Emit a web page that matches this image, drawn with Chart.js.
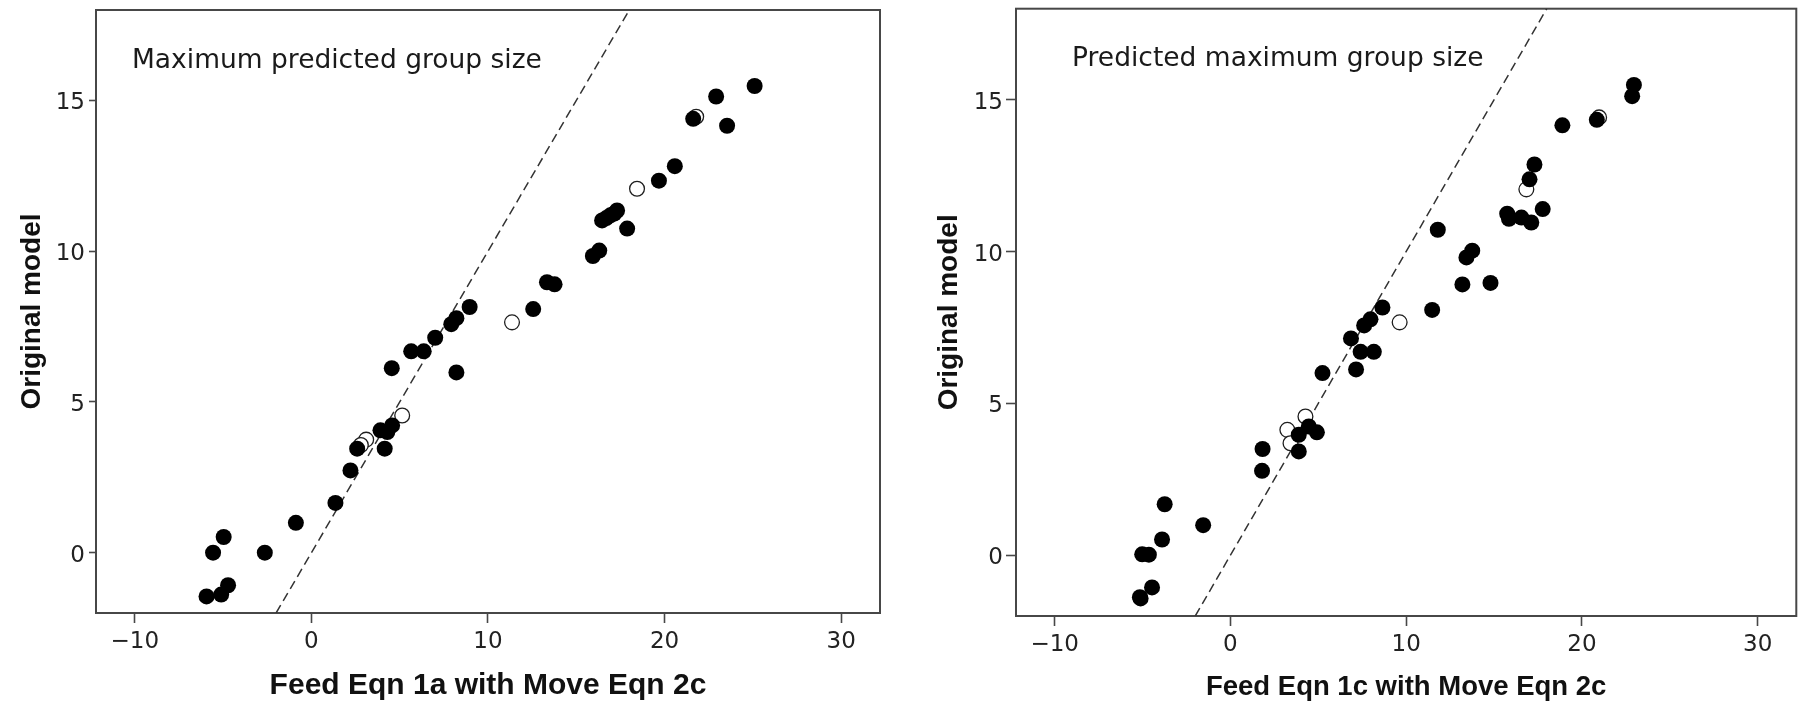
<!DOCTYPE html>
<html>
<head>
<meta charset="utf-8">
<script src="https://cdn.jsdelivr.net/npm/chart.js@4/dist/chart.umd.min.js"></script>
<style>
  html, body { margin: 0; padding: 0; background: #fff; width: 1805px; height: 707px; overflow: hidden; }
  .panel { position: absolute; top: 0; width: 900px; height: 707px; }
</style>
</head>
<body>
<div class="panel" style="left:0"><canvas id="panelA" width="900" height="707"></canvas></div>
<div class="panel" style="left:905px"><canvas id="panelB" width="900" height="707"></canvas></div>
<script>
// ---- Feed Eqn 1a with Move Eqn 2c ----
const feed1aSolidX = [25.10, 22.92, 23.54, 21.62, 20.58, 19.68, 17.31, 16.93, 16.46, 16.70, 17.15, 17.88,
  15.94, 16.30, 13.34, 13.77, 12.56, 8.96, 8.21, 7.92, 7.01, 6.36, 5.65, 4.55, 8.21, 4.57, 3.91, 4.30,
  4.15, 2.59, 2.21, 1.36, -0.88, -2.64, -4.97, -5.57, -4.72, -5.11, -5.94];
const feed1aSolidY = [15.48, 15.13, 14.16, 14.39, 12.82, 12.34, 11.35, 11.19, 11.02, 11.10, 11.25, 10.75,
  9.84, 10.02, 8.97, 8.90, 8.08, 8.15, 7.78, 7.58, 7.13, 6.68, 6.68, 6.12, 5.98, 4.22, 4.06, 4.00,
  3.45, 3.45, 2.73, 1.65, 0.99, 0.00, 0.52, 0.00, -1.08, -1.39, -1.45];
const feed1aOpenX = [21.79, 18.44, 11.36, 5.14, 3.10, 2.80];
const feed1aOpenY = [14.46, 12.07, 7.64, 4.55, 3.75, 3.57];

// ---- Feed Eqn 1c with Move Eqn 2c ----
const feed1cSolidX = [22.96, 22.86, 18.89, 20.85, 17.30, 17.02, 17.77, 15.75, 15.85, 16.56, 17.12, 11.80,
  13.76, 13.43, 13.20, 14.80, 11.48, 8.65, 7.97, 7.61, 6.86, 7.41, 8.16, 7.15, 5.24, 4.92, 4.46, 3.89,
  3.89, 1.83, 1.80, -1.55, -3.74, -3.89, -5.02, -4.64, -4.46, -5.11, -5.15];
const feed1cSolidY = [15.49, 15.12, 14.16, 14.34, 12.87, 12.38, 11.40, 11.25, 11.08, 11.12, 10.96, 10.72,
  10.03, 9.81, 8.92, 8.97, 8.08, 8.16, 7.77, 7.57, 7.14, 6.70, 6.70, 6.12, 6.00, 4.05, 4.24, 3.97,
  3.42, 3.50, 2.78, 0.99, 1.68, 0.52, 0.03, 0.02, -1.06, -1.42, -1.38];
const feed1cOpenX = [20.98, 16.84, 9.63, 4.27, 3.24, 3.42];
const feed1cOpenY = [14.42, 12.05, 7.67, 4.57, 4.13, 3.69];

// ---- shared axes ----
const xTickValues = [-10, 0, 10, 20, 30];
const yTickValues = [0, 5, 10, 15];
const xRange = [-12.2, 32.2];
const yRange = [-2, 18];
const identityEnds = [-2, 18];          // y = x reference line
const yTitle = 'Original model';
const xTitles = ['Feed Eqn 1a with Move Eqn 2c', 'Feed Eqn 1c with Move Eqn 2c'];
const panelNotes = ['Maximum predicted group size', 'Predicted maximum group size'];

const toPoints = (xs, ys) => xs.map((x, i) => ({ x: x, y: ys[i] }));
const fmtTick = v => (v < 0 ? '\u2212' + Math.abs(v) : String(v));

// frame around the plotting area plus the inset note
const framePlugin = {
  id: 'frameAndNote',
  beforeDatasetsDraw(chart, args, opts) {
    const { ctx, chartArea: a } = chart;
    ctx.save();
    ctx.strokeStyle = '#474747';
    ctx.lineWidth = 2;
    ctx.strokeRect(a.left, a.top, a.right - a.left, a.bottom - a.top);
    ctx.fillStyle = '#1a1a1a';
    ctx.font = '26.5px "DejaVu Sans"';
    ctx.textBaseline = 'alphabetic';
    ctx.textAlign = 'left';
    ctx.fillText(opts.text, a.left + opts.dx, a.top + opts.dy);
    ctx.restore();
  }
};

function buildPanel(id, solid, open, lay) {
  const tickFont = { family: 'DejaVu Sans', size: 23 };
  return new Chart(document.getElementById(id), {
    type: 'scatter',
    data: {
      datasets: [
        {
          data: solid,
          backgroundColor: '#000',
          borderColor: '#000',
          borderWidth: 0,
          pointRadius: 8,
          pointHoverRadius: 8
        },
        {
          data: open,
          backgroundColor: '#fff',
          borderColor: '#1e1e1e',
          borderWidth: 1.3,
          pointRadius: 7.4,
          pointHoverRadius: 7.4
        },
        {
          type: 'line',
          data: identityEnds.map(v => ({ x: v, y: v })),
          borderColor: '#333',
          borderWidth: 1.5,
          borderDash: [9, 5],
          pointRadius: 0,
          fill: false,
          showLine: true
        }
      ]
    },
    options: {
      responsive: false,
      animation: false,
      devicePixelRatio: 1,
      layout: { padding: { top: lay.top, right: lay.right, left: 0, bottom: 0 } },
      plugins: {
        legend: { display: false },
        tooltip: { enabled: false },
        frameAndNote: { text: lay.note, dx: lay.noteDx, dy: lay.noteDy }
      },
      scales: {
        x: {
          type: 'linear',
          min: xRange[0],
          max: xRange[1],
          afterBuildTicks: s => { s.ticks = xTickValues.map(v => ({ value: v })); },
          afterFit: s => { s.height = lay.xHeight; s.paddingLeft = 0; s.paddingRight = 0; },
          border: { display: false },
          grid: { display: true, drawOnChartArea: false, drawTicks: true, tickLength: lay.xTick, tickWidth: 1.6, tickColor: '#474747' },
          ticks: { font: tickFont, color: '#222', padding: 5, maxRotation: 0, callback: fmtTick },
          title: {
            display: true, text: lay.xTitle, color: '#111',
            font: { family: 'Liberation Sans', weight: 'bold', size: lay.xTitleSize },
            padding: { top: 0, bottom: lay.xTitlePad }
          }
        },
        y: {
          type: 'linear',
          min: yRange[0],
          max: yRange[1],
          afterBuildTicks: s => { s.ticks = yTickValues.map(v => ({ value: v })); },
          afterFit: s => { s.width = lay.yWidth; s.paddingTop = 0; s.paddingBottom = 0; },
          border: { display: false },
          grid: { display: true, drawOnChartArea: false, drawTicks: true, tickLength: lay.yTick, tickWidth: 1.6, tickColor: '#474747' },
          ticks: { font: tickFont, color: '#222', padding: lay.yTickPad, labelOffset: 3, callback: fmtTick },
          title: {
            display: true, text: yTitle, color: '#111',
            font: { family: 'Liberation Sans', weight: 'bold', size: 28 },
            padding: { top: lay.yTitlePad, bottom: 0 }
          }
        }
      }
    },
    plugins: [framePlugin]
  });
}

buildPanel('panelA',
  toPoints(feed1aSolidX, feed1aSolidY),
  toPoints(feed1aOpenX, feed1aOpenY),
  { top: 10, right: 20, xHeight: 94, yWidth: 96, xTick: 10, yTick: 7, yTickPad: 4,
    xTitle: xTitles[0], xTitleSize: 30, xTitlePad: 3, yTitlePad: 15,
    note: panelNotes[0], noteDx: 36, noteDy: 58 });

buildPanel('panelB',
  toPoints(feed1cSolidX, feed1cSolidY),
  toPoints(feed1cOpenX, feed1cOpenY),
  { top: 5, right: 1, xHeight: 91, yWidth: 111, xTick: 10, yTick: 10, yTickPad: 3,
    xTitle: xTitles[1], xTitleSize: 27.5, xTitlePad: 3.5, yTitlePad: 27,
    note: panelNotes[1], noteDx: 56, noteDy: 57.5 });
</script>
</body>
</html>
